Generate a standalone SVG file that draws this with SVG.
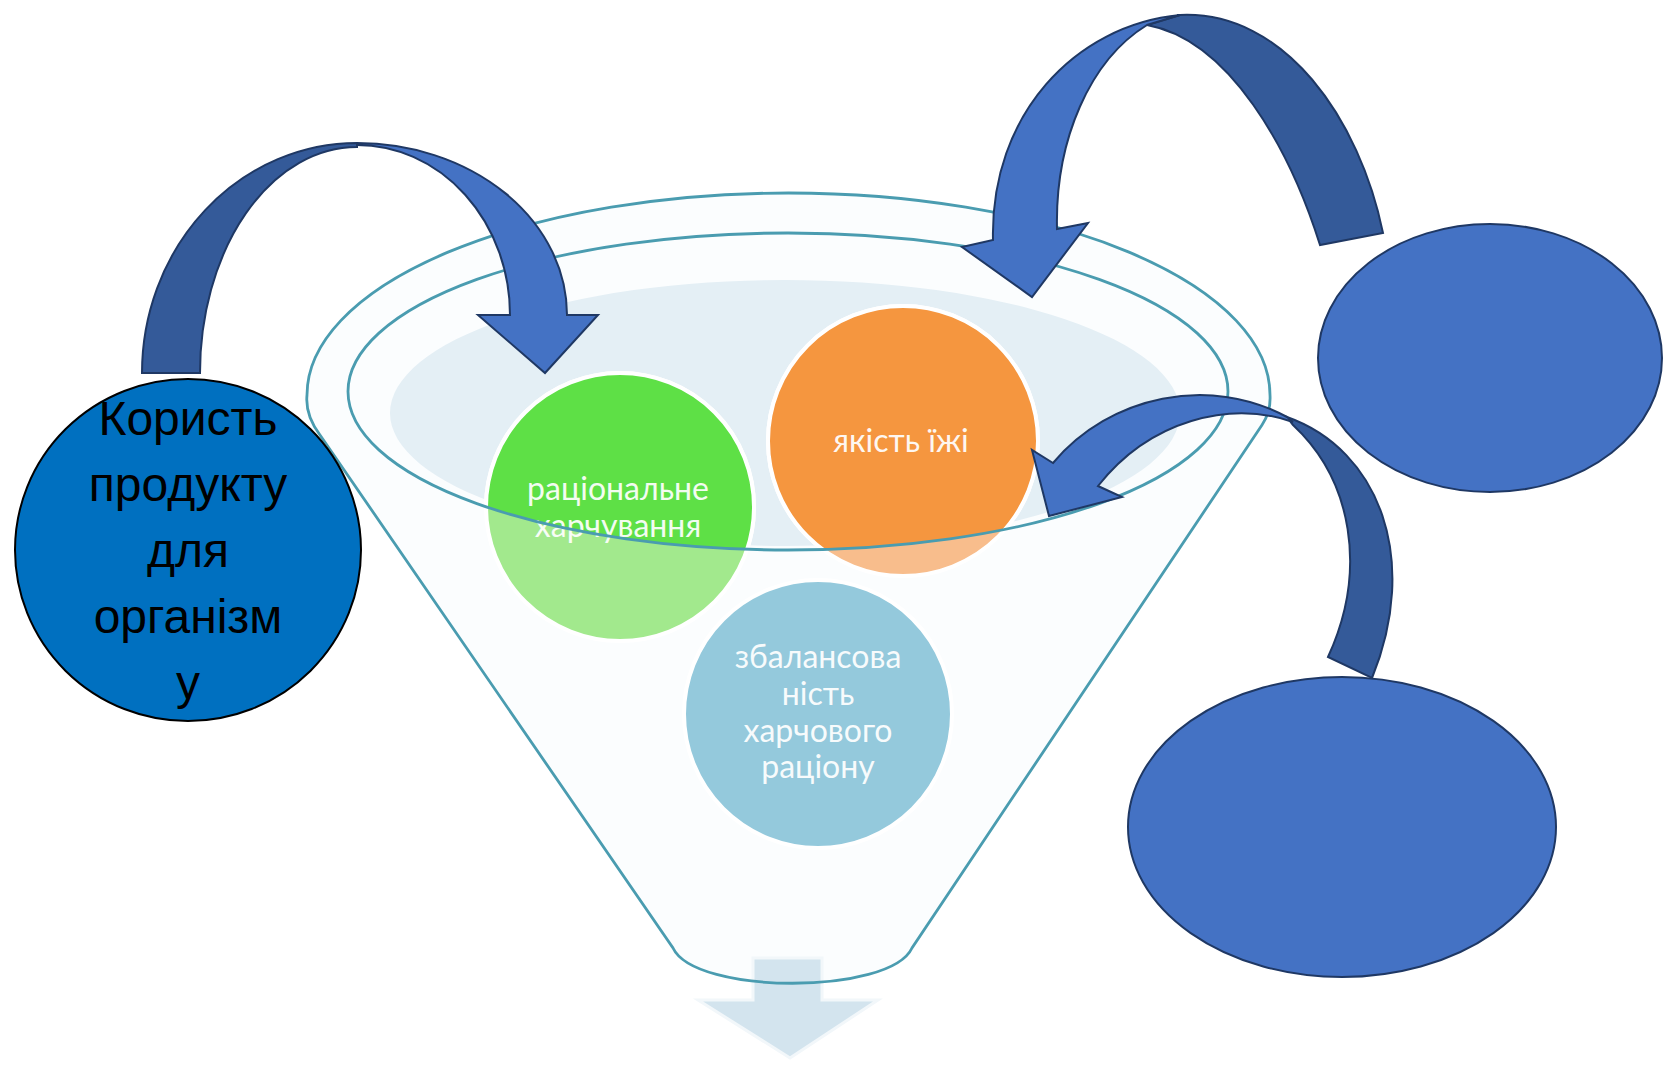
<svg xmlns="http://www.w3.org/2000/svg" width="1664" height="1067" viewBox="0 0 1664 1067">
<style>
.teal{fill:none;stroke:#4A9CB0;stroke-width:2.8}
.ctext{font-family:Lato,"Open Sans","Noto Sans",sans-serif;font-size:32px;fill:#FFFFFF;text-anchor:middle;opacity:0.93}
.ltext{font-family:"Liberation Sans",Arial,sans-serif;font-size:48px;fill:#000000;text-anchor:middle}
.node{fill:#4472C4;stroke:#1F3864;stroke-width:2}
.front{fill:#4472C4;stroke:#1F3864;stroke-width:2;stroke-linejoin:miter}
.back{fill:#345A99;stroke:#1F3864;stroke-width:2;stroke-linejoin:miter}
</style>
<defs>
<clipPath id="ringClip"><ellipse cx="788" cy="391.5" rx="440" ry="158.5"/></clipPath>
</defs>
<rect width="1664" height="1067" fill="#FFFFFF"/>

<g id="funnel">
<path d="M 320,435 Q 305,415 307,395 A 481.5 202 0 0 1 1270,395 Q 1271,412 1262,425 L 912,948 C 890,995 695,995 673,948 Z" fill="#FBFDFE"/>
<polygon points="753,958 822,958 822,1000 878,1000 790,1058 698,1000 753,1000" fill="#D3E4EE" stroke="#F2F7FA" stroke-width="3"/>
<ellipse cx="785" cy="413" rx="395" ry="133" fill="#E4EFF5"/>
</g>

<g id="circle-green">
<circle cx="620" cy="507" r="134" fill="#A2E98D" stroke="#FFFFFF" stroke-width="4"/>
<circle cx="620" cy="507" r="134" fill="#5EE046" stroke="#FFFFFF" stroke-width="4" clip-path="url(#ringClip)"/>
<text class="ctext" x="618" y="500">раціональне</text>
<text class="ctext" x="618" y="537">харчування</text>
</g>

<g id="circle-orange">
<circle cx="903" cy="441" r="135" fill="#F8BD8C" stroke="#FFFFFF" stroke-width="4"/>
<circle cx="903" cy="441" r="135" fill="#F5963F" stroke="#FFFFFF" stroke-width="4" clip-path="url(#ringClip)"/>
<text class="ctext" x="901" y="452">якість їжі</text>
</g>

<g id="circle-blue">
<circle cx="818" cy="714" r="134" fill="#94C9DC" stroke="#FFFFFF" stroke-width="4"/>
<text class="ctext" x="818" y="668">збалансова</text>
<text class="ctext" x="818" y="705">ність</text>
<text class="ctext" x="818" y="742">харчового</text>
<text class="ctext" x="818" y="778">раціону</text>
</g>

<g id="funnel-lines">
<path class="teal" d="M 320,435 Q 305,415 307,395 A 481.5 202 0 0 1 1270,395 Q 1271,412 1262,425 L 912,948 C 890,995 695,995 673,948 Z"/>
<ellipse class="teal" cx="788" cy="391.5" rx="440" ry="158.5"/>
</g>

<g id="node-left">
<ellipse cx="188" cy="550" rx="173" ry="171" fill="#0070C0" stroke="#000000" stroke-width="2"/>
<text class="ltext" x="188" y="435">Користь</text>
<text class="ltext" x="188" y="501">продукту</text>
<text class="ltext" x="188" y="567">для</text>
<text class="ltext" x="188" y="633">організм</text>
<text class="ltext" x="188" y="699">у</text>
</g>

<g id="node-right-top">
<ellipse class="node" cx="1490" cy="358" rx="172" ry="134"/>
</g>

<g id="node-right-bottom">
<ellipse class="node" cx="1342" cy="827" rx="214" ry="150"/>
</g>

<g id="connectors">
<path class="back" d="M 142,373 A 215 230 0 0 1 357,143 L 357,147 A 157 226 0 0 0 200,373 Z"/>
<path class="front" d="M 357,145 A 153 170 0 0 1 510,315 L 478,315 L 545,373 L 598,315 L 567,315 A 210 172 0 0 0 357,143 Z"/>

<path class="back" d="M 1320,245 C 1290,150 1230,40 1147,25 L 1180,15 C 1285,10 1360,120 1383,233 Z"/>
<path class="front" d="M 1147,25 C 1090,60 1055,140 1057,229 L 1088,223 L 1032,297 L 962,247 L 993,240 C 990,115 1075,25 1180,15 Z"/>

<path class="back" d="M 1287,417 C 1380,450 1420,560 1372,678 L 1328,657 C 1368,570 1352,480 1293,425 Z"/>
<path class="front" d="M 1293,422 C 1230,400 1150,420 1098,486 L 1122,497 L 1049,516 L 1032,450 L 1053,463 C 1110,395 1210,375 1287,417 Z"/>
</g>
</svg>
